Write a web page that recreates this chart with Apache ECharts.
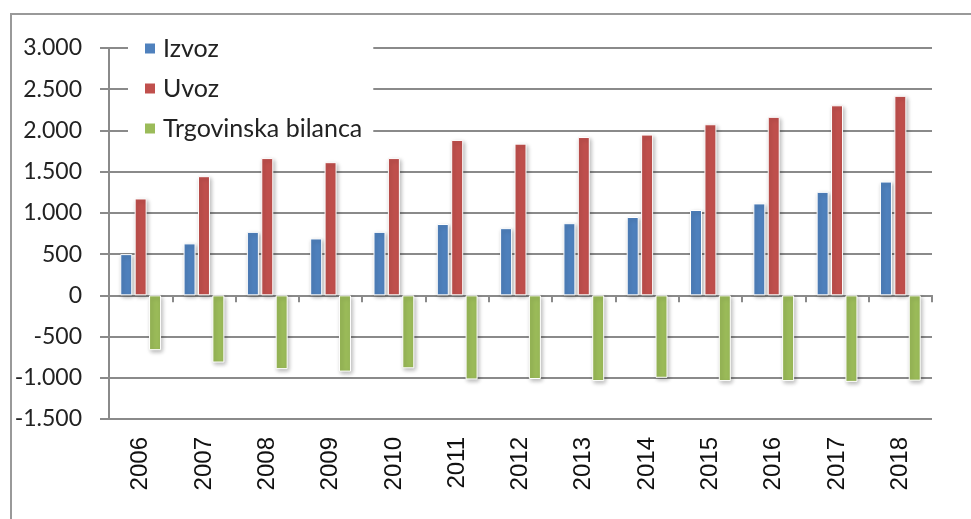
<!DOCTYPE html>
<html>
<head>
<meta charset="utf-8">
<script src="https://cdn.jsdelivr.net/npm/echarts@6/dist/echarts.min.js"></script>
<style>
  html, body { margin: 0; padding: 0; background: #fff; }
  #chart { width: 971px; height: 519px; }
</style>
</head>
<body>
<div id="chart"></div>
<script>
// godine i vrijednosti (procjena s grafa)
var years = ['2006', '2007', '2008', '2009', '2010', '2011', '2012', '2013', '2014', '2015', '2016', '2017', '2018']
var izvoz = [500, 630, 770, 690, 770, 865, 815, 875, 950, 1035, 1115, 1255, 1380]
var uvoz = [1175, 1445, 1665, 1615, 1665, 1885, 1840, 1920, 1950, 2075, 2165, 2305, 2420]
var bilanca = [-665, -815, -895, -925, -885, -1020, -1015, -1040, -1000, -1040, -1040, -1050, -1035]
var seriesNames = ['Izvoz', 'Uvoz', 'Trgovinska bilanca']
var colors = ['#4F81BD', '#C0504D', '#9BBB59']

var gridColor = '#8a8a8a'

function barSeries(name, data, color) {
  return {
    name: name,
    type: 'bar',
    xAxisIndex: 0,
    data: data,
    barWidth: 12,
    barGap: '20%',
    itemStyle: {
      color: color,
      borderColor: '#fff',
      borderWidth: 1,
      shadowColor: 'rgba(0,0,0,0.28)',
      shadowBlur: 4,
      shadowOffsetX: 1.5,
      shadowOffsetY: 2
    },
    emphasis: { disabled: true },
    animation: false
  }
}

var chart = echarts.init(document.getElementById('chart'))
chart.setOption({
  color: colors,
  grid: {
    left: 109,
    right: 39,
    top: 48,
    bottom: 100
  },
  graphic: [{
    type: 'rect',
    shape: { x: 11, y: 14, width: 1000, height: 600 },
    style: { fill: 'none', stroke: '#999', lineWidth: 2 },
    silent: true
  }],
  legend: {
    orient: 'vertical',
    left: 128,
    top: 30,
    data: seriesNames,
    backgroundColor: '#fff',
    padding: [6, 11, 8, 15],
    itemGap: 15,
    itemWidth: 12,
    itemHeight: 12,
    icon: 'rect',
    textStyle: {
      fontFamily: 'Lato',
      fontSize: 25,
      lineHeight: 25,
      color: '#222',
      padding: [0, 0, 0, 2]
    },
    selectedMode: false,
    z: 10
  },
  xAxis: [{
    // os na nuli, samo linija i crtice
    type: 'category',
    data: years,
    position: 'bottom',
    axisLine: { onZero: true, lineStyle: { color: gridColor, width: 2 } },
    axisTick: { show: true, length: 7, lineStyle: { color: gridColor, width: 2 } },
    axisLabel: { show: false },
    splitLine: { show: false }
  }, {
    // oznake godina na dnu
    type: 'category',
    data: years,
    position: 'bottom',
    axisLine: { show: false },
    axisTick: { show: false },
    axisLabel: {
      rotate: 90,
      margin: 18,
      fontFamily: 'Liberation Sans',
      fontSize: 24,
      color: '#111'
    }
  }],
  yAxis: {
    type: 'value',
    min: -1500,
    max: 3000,
    interval: 500,
    axisLine: { show: true, lineStyle: { color: gridColor, width: 2 } },
    axisTick: { show: true, length: 9, lineStyle: { color: gridColor, width: 2 } },
    axisLabel: {
      margin: 27,
      fontFamily: 'Lato',
      fontSize: 23,
      color: '#222',
      formatter: function (v) {
        var s = String(Math.abs(v)).replace(/\B(?=(\d{3})+(?!\d))/g, '.')
        return (v < 0 ? '-' : '') + s
      }
    },
    splitLine: { show: true, lineStyle: { color: gridColor, width: 2 } }
  },
  series: [
    barSeries(seriesNames[0], izvoz, colors[0]),
    barSeries(seriesNames[1], uvoz, colors[1]),
    barSeries(seriesNames[2], bilanca, colors[2])
  ]
})
</script>
</body>
</html>
